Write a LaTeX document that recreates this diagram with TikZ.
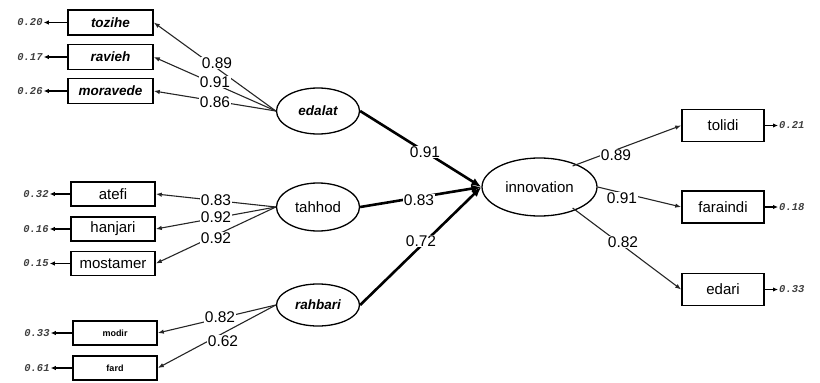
\documentclass[tikz,border=0pt]{standalone}
\usepackage{fontspec}
\setmainfont{Liberation Sans}
\newfontfamily\resfont{Liberation Mono}
\usetikzlibrary{shapes.geometric,arrows.meta}
\begin{document}
\begin{tikzpicture}[x=1pt,y=-1pt,
  ind/.style={draw, line width=1.6pt, minimum width=84pt, minimum height=24pt, inner sep=0pt},
  indr/.style={draw, line width=1.6pt, minimum width=82pt, minimum height=32pt, inner sep=0pt, font=\fontsize{15}{17}\selectfont},
  lat/.style={draw, ellipse, line width=1.3pt, minimum width=83pt, minimum height=44pt, inner sep=0pt},
  bi/.style={font=\fontsize{13.5}{15}\selectfont\bfseries\itshape},
  rg/.style={font=\fontsize{15}{17}\selectfont},
  tiny/.style={font=\fontsize{9}{10}\selectfont\bfseries},
  res/.style={font=\fontsize{10.5}{12}\selectfont\resfont\bfseries\itshape, inner sep=1pt, text=black!75},
  lab/.style={fill=white, inner sep=1pt, font=\fontsize{15.5}{17}\selectfont},
  ld/.style={line width=1.1pt, draw=black!85, -{Latex[length=6pt,width=4.5pt]}},
  st/.style={line width=2.6pt, -{Latex[length=10pt,width=8pt]}},
  rarr/.style={line width=1.3pt, -{Latex[length=5pt,width=4.5pt]}}
]
\useasboundingbox (0,0) rectangle (820,383);
% indicators left
\node[ind,minimum width=85pt,minimum height=25pt,bi] (tozihe) at (110.5,22.5) {tozihe};
\node[ind,minimum width=85pt,minimum height=25pt,bi] (ravieh) at (110.5,57) {ravieh};
\node[ind,minimum width=85pt,minimum height=25pt,bi] (moravede) at (110.5,91) {moravede};
\node[ind,rg] (atefi) at (113,194) {atefi};
\node[ind,rg] (hanjari) at (113,229) {hanjari};
\node[ind,rg] (mostamer) at (113,263.5) {mostamer};
\node[ind,tiny] (modir) at (115,333) {modir};
\node[ind,tiny] (fard) at (115,368) {fard};
% latents
\node[lat,bi,minimum height=46pt] (edalat) at (318,111) {edalat};
\node[lat,rg,minimum height=48pt] (tahhod) at (318,207) {tahhod};
\node[lat,bi,minimum height=42pt] (rahbari) at (318,305) {rahbari};
\node[lat,rg,minimum width=115pt,minimum height=58pt] (innovation) at (539.5,187) {innovation};
% right indicators
\node[indr] (tolidi) at (723,125.5) {tolidi};
\node[indr] (faraindi) at (723,207) {faraindi};
\node[indr] (edari) at (723,289.5) {edari};
% residuals
\node[res] (r1) at (30,22.5) {0.20};
\node[res] (r2) at (30,57) {0.17};
\node[res] (r3) at (30,91) {0.26};
\node[res] (r4) at (36,194) {0.32};
\node[res] (r5) at (36,229) {0.16};
\node[res] (r6) at (36,263.5) {0.15};
\node[res] (r7) at (37,333) {0.33};
\node[res] (r8) at (37,368) {0.61};
\node[res,anchor=west] (r9) at (778,125.5) {0.21};
\node[res,anchor=west] (r10) at (778,207) {0.18};
\node[res,anchor=west] (r11) at (778,289.5) {0.33};
\foreach \b/\r in {tozihe/r1,ravieh/r2,moravede/r3,atefi/r4,hanjari/r5,mostamer/r6,modir/r7,fard/r8}
  \draw[rarr] (\b.west) -- (\r.east);
\foreach \b/\r in {tolidi/r9,faraindi/r10,edari/r11}
  \draw[rarr] (\b.east) -- (\r.west);
% loadings
\draw[ld] (edalat.west) -- (tozihe.east);
\draw[ld] (edalat.west) -- (ravieh.east);
\draw[ld] (edalat.west) -- (moravede.east);
\draw[ld] (tahhod.west) -- (atefi.east);
\draw[ld] (tahhod.west) -- (hanjari.east);
\draw[ld] (tahhod.west) -- (mostamer.east);
\draw[ld] (rahbari.west) -- (modir.east);
\draw[ld] (rahbari.west) -- (fard.east);
\draw[ld] (innovation.north east) ++(-8,0) -- (tolidi.west);
\draw[ld] (innovation.east) -- (faraindi.west);
\draw[ld] (innovation.south east) ++(-8,0) -- (edari.west);
% structural
\draw[st] (edalat.east) -- (innovation.west);
\draw[st] (tahhod.east) -- (innovation.west);
\draw[st] (rahbari.east) -- (innovation.west);
% labels
\node[lab] (l1) at (217,63) {0.89};
\node[lab] (l2) at (215,82) {0.91};
\node[lab] (l3) at (215,102) {0.86};
\node[lab] (l4) at (216,200) {0.83};
\node[lab] (l5) at (216,217) {0.92};
\node[lab] (l6) at (216,238) {0.92};
\node[lab] (l7) at (220,317) {0.82};
\node[lab] (l8) at (223,341) {0.62};
\node[lab] (l9) at (425,152) {0.91};
\node[lab] (l10) at (419,200) {0.83};
\node[lab] (l11) at (421,241) {0.72};
\node[lab] (l12) at (616,155) {0.89};
\node[lab] (l13) at (622,198) {0.91};
\node[lab] (l14) at (623,242) {0.82};
\end{tikzpicture}
\end{document}
